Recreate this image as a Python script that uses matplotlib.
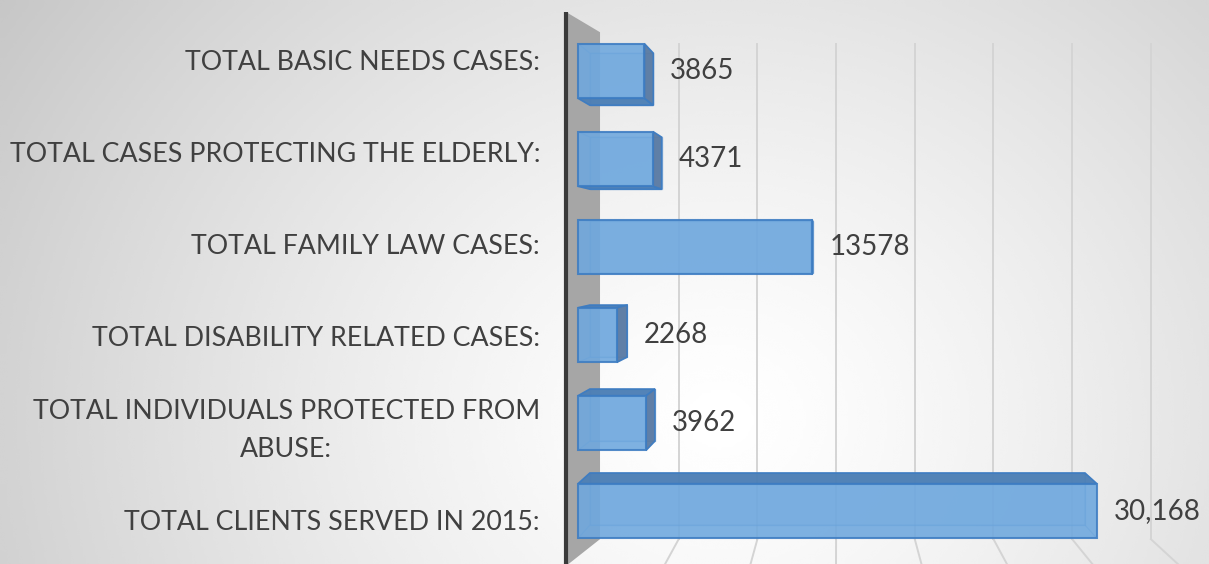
import numpy as np
import matplotlib.pyplot as plt
from matplotlib.patches import Polygon

categories = [
    "TOTAL BASIC NEEDS CASES:",
    "TOTAL CASES PROTECTING THE ELDERLY:",
    "TOTAL FAMILY LAW CASES:",
    "TOTAL DISABILITY RELATED CASES:",
    "TOTAL INDIVIDUALS PROTECTED FROM\nABUSE:",
    "TOTAL CLIENTS SERVED IN 2015:",
]
values = [3865, 4371, 13578, 2268, 3962, 30168]
value_labels = ["3865", "4371", "13578", "2268", "3962", "30,168"]
grid_values = [5000, 10000, 15000, 20000, 25000, 30000, 35000]

W, H = 1209, 564
fig = plt.figure(figsize=(W / 100, H / 100), dpi=100)

# soft radial background
bg = fig.add_axes([0, 0, 1, 1])
bg.axis("off")
xx, yy = np.meshgrid(np.linspace(0, W, 400), np.linspace(0, H, 200))
d = np.sqrt(((xx - 720) / 800) ** 2 + ((yy - 420) / 700) ** 2)
shade = np.clip(1 - 0.2 * d ** 1.3, 0, 1)
bg.imshow(shade, cmap="gray", vmin=0, vmax=1, extent=[0, 1, 0, 1],
          origin="upper", aspect="auto", interpolation="bicubic")

ax = fig.add_axes([0, 0, 1, 1], facecolor="none")
px = 0.0172        # pixels per value unit
row = 88.0         # pixels per category
ax.set_xlim(-578 / px, (W - 578) / px)
ax.set_ylim((H - 71) / row, -71 / row)
ax.axis("off")

# vanishing point for the fake 3d look
vx, vy = (837 - 578) / px, (250 - 71) / row


def to_back(x, y, r):
    return vx + (np.asarray(x, float) - vx) * r, vy + (np.asarray(y, float) - vy) * r


# side wall + gridlines
r_wall = 0.915
wall_x = -12 / px
top_f, bot_f = (12 - 71) / row, (566 - 71) / row
x0b, top_b = to_back(0, top_f, r_wall)
_, bot_b = to_back(0, bot_f, r_wall)
grid_top = top_b + 12 / row

for g in grid_values:
    gb, _ = to_back(g, 0, r_wall)
    ax.plot([gb, gb], [grid_top, bot_b], color="#d4d4d4", lw=1.4, zorder=1)
    ax.plot([gb, g], [bot_b, bot_f], color="#d4d4d4", lw=1.4, zorder=1)

ax.add_patch(Polygon([(wall_x, top_f), (x0b, top_b), (x0b, bot_b), (wall_x, bot_f)],
                     closed=True, facecolor="#a6a6a6", edgecolor="none", zorder=2))
ax.plot([wall_x, wall_x], [top_f, bot_f + 1], color="#3a3a3a", lw=3, zorder=3,
        solid_capstyle="butt")

# bars
h = 0.62
r_bar = 0.954
face = "#6fa8de"
edge = "#3d7cc2"
for i, v in enumerate(values):
    y0, y1 = i - h / 2, i + h / 2
    fx = np.array([0, v, v, 0], float)
    fy = np.array([y0, y0, y1, y1])
    bx, by = to_back(fx, fy, r_bar)
    F = list(zip(fx, fy))
    B = list(zip(bx, by))
    sides = {
        "top": ([F[0], F[1], B[1], B[0]], y0 > vy),
        "bottom": ([F[3], F[2], B[2], B[3]], y1 < vy),
        "right": ([F[1], F[2], B[2], B[1]], v < vx),
        "left": ([F[0], F[3], B[3], B[0]], False),
    }
    ax.add_patch(Polygon(B, closed=True, facecolor=face, edgecolor=edge,
                         alpha=0.45, lw=1, zorder=4))
    for name, (pts, visible) in sides.items():
        if visible:
            c = "#4d7fb5" if name != "right" else "#5b7ba3"
            ax.add_patch(Polygon(pts, closed=True, facecolor=c, edgecolor=edge,
                                 alpha=0.95, lw=1.2, zorder=5))
        else:
            ax.add_patch(Polygon(pts, closed=True, facecolor=face, edgecolor=edge,
                                 alpha=0.25, lw=0.8, zorder=4))
    ax.add_patch(Polygon(F, closed=True, facecolor=face, edgecolor=edge,
                         alpha=0.85, lw=1.5, zorder=6))

    right = max(v, bx[1])
    ax.text(right + 17 / px, i, value_labels[i], ha="left", va="center",
            fontsize=20, color="#404040", family="Lato", zorder=7)

# category labels sit on a slightly larger front plane
for i, lab in enumerate(categories):
    ly = vy + (i - vy) * 1.045
    ax.text((540 - 578) / px, ly, lab, ha="right", va="center",
            multialignment="center", fontsize=19.3, color="#404040",
            family="Lato", linespacing=1.65, zorder=7)

fig.savefig("out.png", dpi=100)
